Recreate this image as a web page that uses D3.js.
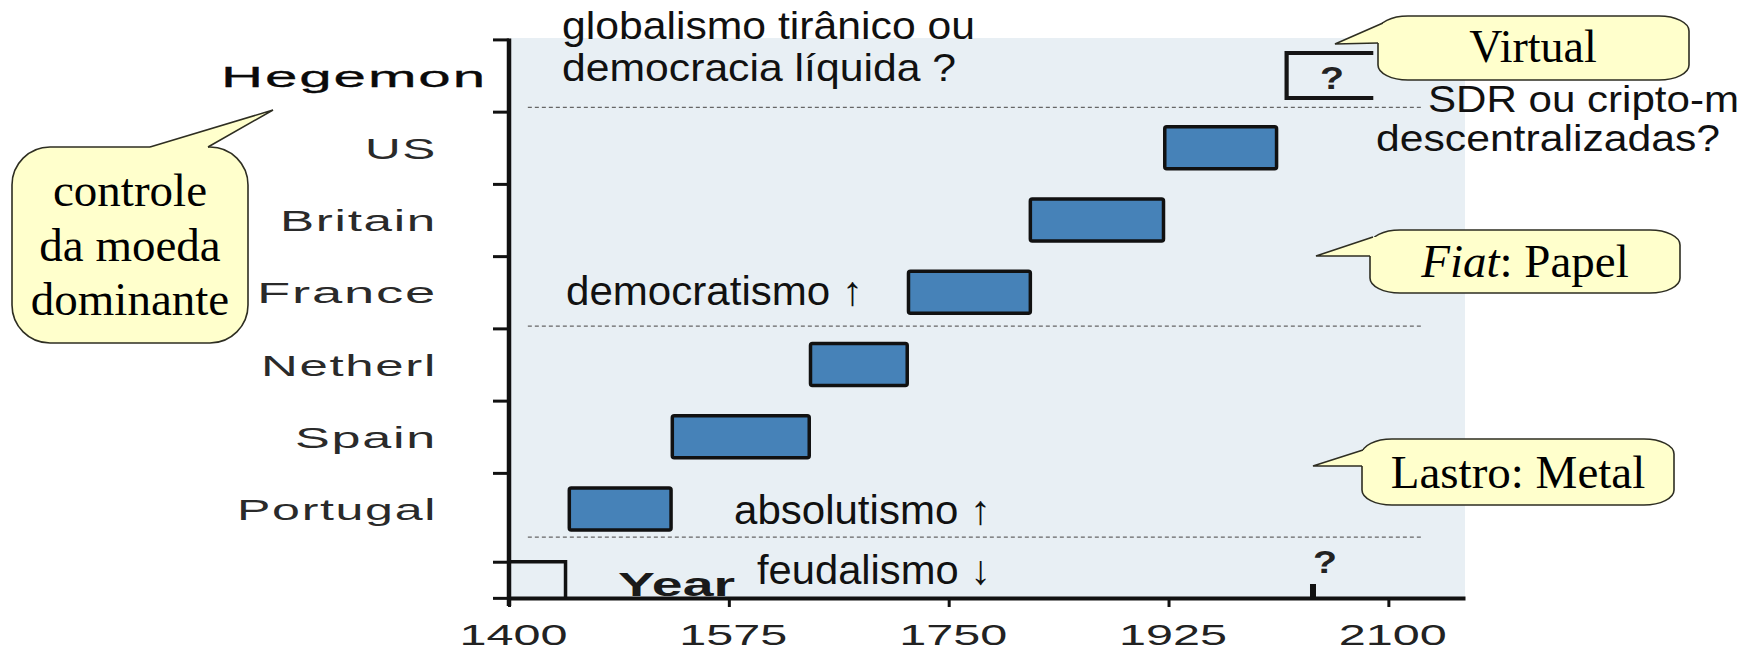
<!DOCTYPE html>
<html>
<head>
<meta charset="utf-8">
<script src="https://cdn.jsdelivr.net/npm/d3@7"></script>
<style>
	body { margin: 0; background: #fff; }
	svg { display: block; }
</style>
</head>
<body>
<div id="graph"></div>
<script>
// rows, bottom to top
var rowNames = ["Portugal", "Spain", "Netherl", "France", "Britain", "US", "Hegemon"];
var hegemons = ["Portugal", "Spain", "Netherl", "France", "Britain", "US"];
var startYear = [1448, 1530, 1640, 1718, 1815, 1922];
var endYear = [1529, 1639, 1717, 1815, 1921, 2011];
var futureSpan = [2019, 2088];      // the open "?" box of the next hegemon
var futureMark = 2040;              // small "?" mark on the year axis
var yearTicks = [1400, 1575, 1750, 1925, 2100];
var rowTicks = [-0.23, 0.27, 1.5, 2.5, 3.5, 4.5, 5.5, 6.5, 7.5];
var eraLines = [6.56, 3.53, 0.61];  // dashed separators between eras
var yearBracket = [1400, 1445];

var topText = ["globalismo tirânico ou", "democracia líquida ?"];
var eraText = ["democratismo ↑", "absolutismo ↑", "feudalismo ↓"];
var virtualText = ["SDR ou cripto-m", "descentralizadas?"];
var leftNote = ["controle", "da moeda", "dominante"];

var w = 1756;
var h = 650;

var x = d3.scaleLinear()
	.domain([1400, 2161])
	.range([509, 1465]);
var y = d3.scaleLinear()
	.domain([-0.232, 7.5])
	.range([598, 39.4]);
var barH = 42;

var svg = d3.select("#graph")
	.append("svg")
	.attr("width", w)
	.attr("height", h);

svg.append("rect")
	.attr("width", w)
	.attr("height", h)
	.attr("fill", "#fff");

// plot background
svg.append("rect")
	.attr("x", x(1400))
	.attr("y", 38)
	.attr("width", x(2161) - x(1400))
	.attr("height", y(-0.232) - 38)
	.attr("fill", "#e8eff4");

// era separators
svg.selectAll("line.era")
	.data(eraLines)
	.enter()
	.append("line")
	.attr("class", "era")
	.attr("x1", x(1415))
	.attr("x2", x(2127))
	.attr("y1", function (d) { return y(d); })
	.attr("y2", function (d) { return y(d); })
	.attr("stroke", "#666")
	.attr("stroke-width", 1.3)
	.attr("stroke-dasharray", "4,3");

function sansText(str, px, py, len, size) {
	return svg.append("text")
		.attr("x", px)
		.attr("y", py)
		.attr("font-family", "'Liberation Sans', Arial, sans-serif")
		.attr("font-size", size)
		.attr("fill", "#111")
		.attr("textLength", len)
		.attr("lengthAdjust", "spacingAndGlyphs")
		.text(str);
}

// annotations inside the plot
sansText(topText[0], 562, 39, 413, 39);
sansText(topText[1], 562, 81, 394, 39);
sansText(eraText[0], 566, 305, 297, 41);
sansText(eraText[1], 734, 524, 257, 41);
sansText(eraText[2], 757, 584, 234, 41);
sansText(virtualText[0], 1428, 112, 311, 36);
sansText(virtualText[1], 1376, 151, 344, 36);

// "Year" title sits under the axis line
svg.append("text")
	.attr("x", 618)
	.attr("y", 596)
	.attr("font-family", "'Liberation Sans', Arial, sans-serif")
	.attr("font-weight", "bold")
	.attr("font-size", 33)
	.attr("fill", "#1a1a1a")
	.attr("textLength", 117)
	.attr("lengthAdjust", "spacingAndGlyphs")
	.text("Year");

// hegemon bars
svg.selectAll("rect.bar")
	.data(hegemons)
	.enter()
	.append("rect")
	.attr("class", "bar")
	.attr("x", function (d, i) { return x(startYear[i]); })
	.attr("y", function (d, i) { return y(i + 1) - barH / 2; })
	.attr("width", function (d, i) { return x(endYear[i]) - x(startYear[i]); })
	.attr("height", barH)
	.attr("rx", 2)
	.attr("fill", "#4682b8")
	.attr("stroke", "#111")
	.attr("stroke-width", 3.5);

// open box of the future hegemon
var fy = y(7);
svg.append("path")
	.attr("d", "M" + x(futureSpan[1]) + "," + (fy - 22.5) +
		"H" + x(futureSpan[0]) + "V" + (fy + 22.5) + "H" + x(futureSpan[1]))
	.attr("fill", "none")
	.attr("stroke", "#151515")
	.attr("stroke-width", 4.2);

svg.append("text")
	.attr("x", (x(futureSpan[0]) + x(futureSpan[1])) / 2 + 2)
	.attr("y", fy + 13)
	.attr("text-anchor", "middle")
	.attr("font-family", "'Liberation Sans', Arial, sans-serif")
	.attr("font-weight", "bold")
	.attr("font-size", 32)
	.attr("fill", "#222")
	.attr("textLength", 24)
	.attr("lengthAdjust", "spacingAndGlyphs")
	.text("?");

// year bracket at the bottom left
svg.append("path")
	.attr("d", "M" + x(yearBracket[0]) + "," + y(0.27) + "H" + x(yearBracket[1]) + "V" + y(-0.232))
	.attr("fill", "none")
	.attr("stroke", "#111")
	.attr("stroke-width", 3.5);

// future mark on the year axis
svg.append("rect")
	.attr("x", x(futureMark) - 3)
	.attr("y", y(-0.232) - 14)
	.attr("width", 6)
	.attr("height", 14)
	.attr("fill", "#111");

svg.append("text")
	.attr("x", x(futureMark))
	.attr("y", 573)
	.attr("font-family", "'Liberation Sans', Arial, sans-serif")
	.attr("font-weight", "bold")
	.attr("font-size", 32)
	.attr("fill", "#222")
	.attr("textLength", 24)
	.attr("lengthAdjust", "spacingAndGlyphs")
	.text("?");

// x axis
var xAxis = d3.axisBottom(x)
	.tickValues(yearTicks)
	.tickFormat(d3.format("d"))
	.tickSizeInner(9)
	.tickSizeOuter(0)
	.tickPadding(17);

var gx = svg.append("g")
	.attr("transform", "translate(0," + y(-0.232) + ")")
	.call(xAxis);
gx.select(".domain")
	.attr("stroke", "#111")
	.attr("stroke-width", 4);
gx.selectAll(".tick line")
	.attr("stroke", "#111")
	.attr("stroke-width", 3);
gx.selectAll(".tick text")
	.attr("dx", 4)
	.attr("font-family", "'Liberation Sans', Arial, sans-serif")
	.attr("font-size", 30)
	.attr("fill", "#222")
	.attr("textLength", 108)
	.attr("lengthAdjust", "spacingAndGlyphs");

// y axis
var yAxis = d3.axisLeft(y)
	.tickValues(rowTicks)
	.tickFormat("")
	.tickSizeInner(16)
	.tickSizeOuter(0);

var gy = svg.append("g")
	.attr("transform", "translate(" + x(1400) + ",0)")
	.call(yAxis);
gy.select(".domain").remove();
gy.selectAll(".tick line")
	.attr("stroke", "#111")
	.attr("stroke-width", 3);
gy.append("line")
	.attr("x1", 0)
	.attr("x2", 0)
	.attr("y1", y(7.5) - 1)
	.attr("y2", y(-0.232) + 8)
	.attr("stroke", "#111")
	.attr("stroke-width", 4.5);

// row labels
var labelWidth = {"Portugal": 200, "Spain": 142, "Netherl": 176, "France": 180, "Britain": 157, "US": 72, "Hegemon": 266};
svg.selectAll("text.row")
	.data(rowNames)
	.enter()
	.append("text")
	.attr("class", "row")
	.attr("x", function (d) { return d == "Hegemon" ? 487 : 437; })
	.attr("y", function (d, i) { return y(i + 1) + 11; })
	.attr("text-anchor", "end")
	.attr("font-family", "'Liberation Sans', Arial, sans-serif")
	.attr("font-size", 30)
	.attr("fill", function (d) { return d == "Hegemon" ? "#0a0a0a" : "#2a2a2a"; })
	.attr("stroke", function (d) { return d == "Hegemon" ? "#0a0a0a" : "none"; })
	.attr("stroke-width", 0.3)
	.attr("letter-spacing", 1)
	.attr("textLength", function (d) { return labelWidth[d]; })
	.attr("lengthAdjust", "spacingAndGlyphs")
	.text(function (d) { return d; });

// speech-bubble callouts
function callout(box, tip, b1, b2, inward) {
	var g = svg.append("g");
	g.append("rect")
		.attr("x", box[0])
		.attr("y", box[1])
		.attr("width", box[2])
		.attr("height", box[3])
		.attr("rx", box[4])
		.attr("ry", box[5])
		.attr("fill", "#ffffcc")
		.attr("stroke", "#2e2e22")
		.attr("stroke-width", 1.6);
	var pts = [b1, tip, b2, [b2[0] + inward[0], b2[1] + inward[1]], [b1[0] + inward[0], b1[1] + inward[1]]];
	g.append("path")
		.attr("d", "M" + pts.join("L") + "Z")
		.attr("fill", "#ffffcc");
	g.append("path")
		.attr("d", "M" + [b1, tip, b2].join("L"))
		.attr("fill", "none")
		.attr("stroke", "#2e2e22")
		.attr("stroke-width", 1.6);
	return g;
}

function serif(g, str, px, py, size) {
	return g.append("text")
		.attr("x", px)
		.attr("y", py)
		.attr("text-anchor", "middle")
		.attr("font-family", "'Liberation Serif', 'Times New Roman', serif")
		.attr("font-size", size)
		.attr("fill", "#000")
		.text(str);
}

var c1 = callout([12, 147, 236, 196, 38, 38], [273, 110], [150, 147], [208, 147], [0, 6]);
serif(c1, leftNote[0], 130, 206, 47);
serif(c1, leftNote[1], 130, 261, 47);
serif(c1, leftNote[2], 130, 315, 47);

var c2 = callout([1378, 16, 311, 64, 30, 15], [1335, 44], [1383, 23], [1378, 43], [7, 0]);
serif(c2, "Virtual", 1533, 62, 46);

var c3 = callout([1370, 230, 310, 63, 30, 15], [1316, 256], [1373, 237], [1370, 256], [7, 0]);
var t3 = serif(c3, "", 1525, 277, 47);
t3.append("tspan").attr("font-style", "italic").text("Fiat");
t3.append("tspan").text(": Papel");

var c4 = callout([1362, 439, 312, 66, 30, 15], [1313, 466], [1363, 450], [1362, 466], [7, 0]);
serif(c4, "Lastro: Metal", 1518, 488, 47);
</script>
</body>
</html>
